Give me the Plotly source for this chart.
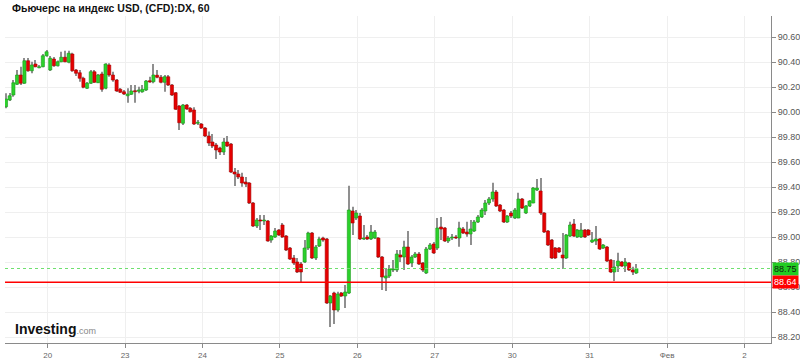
import plotly.graph_objects as go

title_text = "Фьючерс на индекс USD, (CFD):DX, 60"

open_ = [90.044, 90.098, 90.138, 90.224, 90.298, 90.232, 90.412, 90.332, 90.386, 90.356,
         90.364, 90.452, 90.338, 90.426, 90.372, 90.404, 90.440, 90.400, 90.466, 90.338,
         90.316, 90.272, 90.192, 90.232, 90.324, 90.236, 90.306, 90.192, 90.378, 90.298,
         90.258, 90.184, 90.164, 90.132, 90.144, 90.172, 90.168, 90.164, 90.178, 90.252,
         90.244, 90.296, 90.280, 90.240, 90.284, 90.218, 90.156, 90.050, 89.912, 90.058,
         90.032, 90.018, 89.912, 89.906, 89.874, 89.810, 89.762, 89.738, 89.714, 89.682,
         89.762, 89.746, 89.522, 89.506, 89.482, 89.442, 89.434, 89.274, 89.090, 89.138,
         89.130, 89.130, 88.978, 89.002, 89.058, 89.098, 89.010, 88.914, 88.834, 88.802,
         88.786, 88.802, 88.914, 89.034, 88.834, 88.930, 88.994, 88.986, 88.474, 88.554,
         88.418, 88.554, 88.530, 88.554, 89.210, 89.154, 89.170, 88.986, 89.002, 88.986,
         88.994, 88.994, 88.842, 88.674, 88.690, 88.738, 88.738, 88.858, 88.842, 88.922,
         88.794, 88.842, 88.866, 88.794, 88.714, 88.906, 88.946, 88.914, 89.082, 89.074,
         88.970, 88.994, 89.002, 88.994, 89.066, 89.042, 89.026, 89.050, 89.122, 89.162,
         89.210, 89.274, 89.306, 89.362, 89.258, 89.218, 89.122, 89.194, 89.154, 89.154,
         89.306, 89.194, 89.250, 89.274, 89.378, 89.370, 89.194, 89.050, 88.978, 88.914,
         88.914, 88.858, 88.834, 89.010, 89.106, 89.002, 89.002, 89.058, 89.058, 88.962,
         88.970, 88.986, 88.914, 88.922, 88.818, 88.722, 88.770, 88.802, 88.770, 88.794,
         88.738, 88.714]
high = [90.152, 90.154, 90.258, 90.338, 90.364, 90.434, 90.434, 90.404, 90.418, 90.378,
        90.466, 90.498, 90.450, 90.442, 90.414, 90.484, 90.492, 90.492, 90.476, 90.346,
        90.338, 90.284, 90.242, 90.338, 90.338, 90.306, 90.324, 90.392, 90.392, 90.324,
        90.266, 90.194, 90.178, 90.192, 90.218, 90.218, 90.204, 90.218, 90.258, 90.284,
        90.386, 90.338, 90.298, 90.298, 90.298, 90.226, 90.162, 90.058, 90.066, 90.066,
        90.042, 90.040, 89.938, 89.914, 89.882, 89.845, 89.826, 89.754, 89.724, 89.794,
        89.810, 89.754, 89.554, 89.538, 89.516, 89.482, 89.442, 89.282, 89.154, 89.178,
        89.178, 89.138, 89.018, 89.074, 89.066, 89.114, 89.018, 88.922, 88.858, 88.834,
        88.802, 88.978, 89.044, 89.042, 88.938, 89.004, 89.004, 88.994, 88.538, 88.564,
        88.564, 88.562, 88.618, 89.412, 89.244, 89.218, 89.194, 89.098, 89.018, 89.098,
        89.058, 89.002, 88.850, 88.754, 88.778, 88.818, 88.898, 88.898, 88.972, 89.050,
        88.858, 88.882, 88.882, 88.802, 88.922, 88.954, 88.962, 89.154, 89.162, 89.082,
        89.010, 89.026, 89.018, 89.124, 89.082, 89.124, 89.138, 89.138, 89.178, 89.234,
        89.298, 89.322, 89.436, 89.378, 89.266, 89.226, 89.178, 89.210, 89.234, 89.356,
        89.314, 89.258, 89.298, 89.402, 89.466, 89.474, 89.202, 89.058, 88.986, 88.922,
        88.922, 89.034, 89.026, 89.124, 89.146, 89.066, 89.114, 89.066, 89.066, 89.042,
        89.090, 88.994, 88.946, 88.930, 88.826, 88.818, 88.876, 88.810, 88.834, 88.802,
        88.764, 88.786]
low = [90.032, 90.090, 90.124, 90.218, 90.218, 90.226, 90.324, 90.312, 90.360, 90.352,
       90.360, 90.444, 90.330, 90.364, 90.366, 90.400, 90.400, 90.392, 90.324, 90.290,
       90.244, 90.192, 90.186, 90.226, 90.234, 90.234, 90.164, 90.184, 90.284, 90.244,
       90.162, 90.154, 90.138, 90.076, 90.138, 90.076, 90.152, 90.156, 90.170, 90.236,
       90.232, 90.272, 90.232, 90.164, 90.210, 90.130, 90.018, 89.858, 89.898, 90.018,
       89.998, 89.898, 89.898, 89.866, 89.802, 89.730, 89.714, 89.626, 89.658, 89.658,
       89.722, 89.514, 89.410, 89.466, 89.404, 89.402, 89.266, 89.082, 89.074, 89.058,
       89.098, 88.964, 88.956, 88.994, 89.010, 88.994, 88.890, 88.818, 88.778, 88.714,
       88.634, 88.794, 88.898, 88.826, 88.818, 88.922, 88.964, 88.466, 88.282, 88.306,
       88.404, 88.522, 88.434, 88.546, 89.018, 89.138, 88.978, 88.978, 88.978, 88.978,
       88.986, 88.834, 88.578, 88.570, 88.674, 88.722, 88.722, 88.802, 88.738, 88.778,
       88.762, 88.834, 88.778, 88.722, 88.706, 88.898, 88.866, 88.898, 88.978, 88.962,
       88.954, 88.978, 88.986, 88.924, 89.026, 89.004, 88.938, 89.042, 89.114, 89.154,
       89.178, 89.258, 89.284, 89.242, 89.202, 89.114, 89.114, 89.154, 89.146, 89.152,
       89.226, 89.186, 89.242, 89.272, 89.370, 89.178, 89.034, 88.930, 88.826, 88.826,
       88.874, 88.746, 88.826, 89.002, 89.002, 88.994, 88.994, 88.994, 89.010, 88.954,
       88.938, 88.898, 88.906, 88.802, 88.714, 88.650, 88.722, 88.762, 88.722, 88.730,
       88.698, 88.706]
close = [90.106, 90.132, 90.236, 90.298, 90.232, 90.412, 90.332, 90.378, 90.364, 90.364,
         90.452, 90.484, 90.432, 90.372, 90.404, 90.440, 90.404, 90.472, 90.332, 90.312,
         90.272, 90.200, 90.232, 90.324, 90.240, 90.298, 90.184, 90.386, 90.298, 90.258,
         90.170, 90.160, 90.146, 90.146, 90.170, 90.164, 90.178, 90.184, 90.250, 90.242,
         90.298, 90.280, 90.240, 90.284, 90.218, 90.138, 90.024, 89.916, 90.058, 90.026,
         90.004, 89.906, 89.918, 89.874, 89.810, 89.754, 89.730, 89.698, 89.682, 89.762,
         89.730, 89.522, 89.506, 89.482, 89.434, 89.426, 89.274, 89.090, 89.138, 89.130,
         89.138, 88.970, 89.010, 89.050, 89.018, 89.002, 88.898, 88.826, 88.794, 88.722,
         88.722, 88.914, 89.034, 88.834, 88.922, 88.986, 88.978, 88.474, 88.530, 88.418,
         88.546, 88.530, 88.562, 89.218, 89.114, 89.194, 88.986, 88.994, 88.986, 89.042,
         89.042, 88.842, 88.682, 88.690, 88.746, 88.746, 88.866, 88.842, 88.922, 88.786,
         88.842, 88.866, 88.786, 88.738, 88.906, 88.938, 88.874, 89.074, 89.066, 88.970,
         88.994, 89.002, 88.994, 89.074, 89.034, 89.026, 89.066, 89.122, 89.162, 89.218,
         89.274, 89.306, 89.362, 89.250, 89.210, 89.122, 89.170, 89.170, 89.218, 89.306,
         89.234, 89.250, 89.290, 89.394, 89.394, 89.194, 89.042, 88.938, 88.834, 88.834,
         88.882, 88.834, 89.018, 89.098, 89.010, 89.058, 89.058, 89.002, 89.018, 88.978,
         88.986, 88.906, 88.938, 88.810, 88.722, 88.762, 88.810, 88.770, 88.802, 88.738,
         88.722, 88.750]

day_tick_pos = [11.3, 32.3, 53.3, 74.3, 95.3, 116.3, 137.3, 158.3, 179.3, 200.3]
day_tick_text = ["20", "23", "24", "25", "26", "27", "30", "31", "Фев", "2"]
price_ticks = [88.2, 88.4, 88.6, 88.8, 89.0, 89.2, 89.4, 89.6, 89.8, 90.0, 90.2, 90.4, 90.6]
last_price = 88.75
marked_price = 88.64

x = list(range(len(open_)))
up = [c >= o for o, c in zip(open_, close)]
body_base = [min(o, c) for o, c in zip(open_, close)]
body_h = [max(abs(c - o), 0.008) for o, c in zip(open_, close)]
wick_h = [h - l for h, l in zip(high, low)]

GREEN = "#2bd12b"
GREEN_EDGE = "#179a17"
RED = "#e60000"
RED_EDGE = "#a80000"

fig = go.Figure()
fig.add_trace(go.Bar(x=x, y=wick_h, base=low, width=0.28,
                     marker=dict(color="#8f8f8f", line=dict(width=0)),
                     hoverinfo="skip", showlegend=False))
fig.add_trace(go.Bar(x=x, y=body_h, base=body_base, width=0.85,
                     marker=dict(color=[GREEN if u else RED for u in up],
                                 line=dict(color=[GREEN_EDGE if u else RED_EDGE for u in up], width=0.6)),
                     showlegend=False))

fig.add_shape(type="line", xref="paper", x0=0, x1=1, yref="y", y0=last_price, y1=last_price,
              line=dict(color="#6fe06f", width=1, dash="dot"))
fig.add_shape(type="line", xref="paper", x0=0, x1=1, yref="y", y0=marked_price, y1=marked_price,
              line=dict(color="#ff0000", width=1.5))

fig.add_annotation(xref="paper", yref="y", x=1, y=last_price, xanchor="left", yanchor="middle",
                   xshift=1, text=f"{last_price:.2f}", showarrow=False,
                   bgcolor="#22cc22", borderpad=1,
                   font=dict(family="Arial, Liberation Sans, sans-serif", size=9, color="#102010"))
fig.add_annotation(xref="paper", yref="y", x=1, y=marked_price, xanchor="left", yanchor="middle",
                   xshift=1, text=f"{marked_price:.2f}", showarrow=False,
                   bgcolor="#ff0000", borderpad=1,
                   font=dict(family="Arial, Liberation Sans, sans-serif", size=9, color="#ffffff"))

fig.add_annotation(xref="paper", yref="paper", x=0.0065, y=1.0245, xanchor="left", yanchor="middle",
                   text="<b>" + title_text + "</b>", showarrow=False,
                   font=dict(family="Arial, Liberation Sans, sans-serif", size=10.5, color="#111111"))
fig.add_annotation(xref="paper", yref="paper", x=0.0104, y=0.043, xanchor="left", yanchor="middle",
                   text="<b>Investing</b><span style='font-size:9px;color:#888888'>.com</span>",
                   showarrow=False,
                   font=dict(family="Liberation Sans Narrow, Arial Narrow, Arial, sans-serif", size=14, color="#111111"))

fig.update_layout(
    width=800, height=359,
    margin=dict(l=5, r=29, t=16, b=16),
    paper_bgcolor="white", plot_bgcolor="white",
    barmode="overlay", showlegend=False,
    font=dict(family="Arial, Liberation Sans, sans-serif"),
    xaxis=dict(range=[-0.27, 207.5], tickmode="array", tickvals=day_tick_pos, ticktext=day_tick_text,
               automargin=False,
               showgrid=True, gridcolor="#efefef", gridwidth=1, zeroline=False,
               showline=True, linecolor="#8a8a8a", linewidth=1,
               ticks="outside", ticklen=4, tickcolor="#8a8a8a",
               tickfont=dict(size=8, color="#666666")),
    yaxis=dict(range=[88.154, 90.770], side="right", tickmode="array", tickvals=price_ticks,
               ticktext=[f"{v:.2f}" for v in price_ticks],
               automargin=False,
               showgrid=True, gridcolor="#efefef", gridwidth=1, zeroline=False,
               showline=True, linecolor="#8a8a8a", linewidth=1,
               ticks="outside", ticklen=4, tickcolor="#8a8a8a",
               tickfont=dict(size=9, color="#555555")),
)

fig.write_html("out.html")
